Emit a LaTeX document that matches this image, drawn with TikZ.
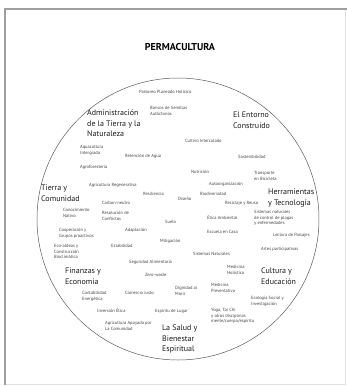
\documentclass[tikz,border=0pt]{standalone}
\usepackage{fontspec}
\setmainfont{PT Sans}
\begin{document}
\begin{tikzpicture}[x=1pt,y=-1pt,
  sm/.style={anchor=base west,inner sep=0pt,align=left,text=black!75,
    font=\fontsize{4.5}{5.6}\selectfont},
  cat/.style={anchor=base west,inner sep=0pt,align=left,text=black!90,
    font=\fontsize{8}{10.3}\selectfont},
  ttl/.style={anchor=base,inner sep=0pt,font=\fontsize{10}{12}\selectfont\bfseries}]
\useasboundingbox (0,0) rectangle (347,386);
% frame
\draw[gray!25,line width=0.6pt] (5.5,9) rectangle (345,384.5);
\draw[gray!75,line width=1.8pt] (5,385) -- (5,8.8) -- (347,8.8);
% circle
\node[draw=black!65,line width=0.5pt,circle,minimum size=282pt,inner sep=0pt] (circ) at (178,219) {};
% title
\node[ttl] (title) at (180,50.5) {PERMACULTURA};
% categories (anchored at baseline of last line)
\node[cat] (adm) at (87,136.4) {Administración\\de la Tierra y la\\Naturaleza};
\node[cat] (ent) at (233,128.1) {El Entorno\\Construido};
\node[cat] (tie) at (41,201.1) {Tierra y\\Comunidad};
\node[cat] (her) at (268,205.1) {Herramientas\\y Tecnología};
\node[cat] (fin) at (65,284.1) {Finanzas y\\Economía};
\node[cat] (cul) at (261,284.1) {Cultura y\\Educación};
\node[cat] (sal) at (162,351.4) {La Salud y\\Bienestar\\Espiritual};
% small labels (anchored at baseline of last line)
\node[sm] (s1) at (139,93.6) {Pastoreo Planeado Holísico};
\node[sm] (s2) at (150,115.2) {Bancos de Semillas\\Autóctonos};
\node[sm] (s3) at (185,142.6) {Cultivo Intercalado};
\node[sm] (s4) at (80,154.2) {Aquacultura\\Intergrada};
\node[sm] (s5) at (125,157.6) {Retención de Agua};
\node[sm] (s6) at (238,158.6) {Sostenibilidad};
\node[sm] (s7) at (80,168.6) {Agroforestería};
\node[sm] (s8) at (191,173.6) {Nutrición};
\node[sm] (s9) at (254,180.2) {Transporte\\en Bicicleta};
\node[sm] (s10) at (209,185.6) {Autoorganización};
\node[sm] (s11) at (89,186.6) {Agricultura Regenerativa};
\node[sm] (s12) at (143,195.6) {Resiliencia};
\node[sm] (s13) at (200,195.6) {Biodiversidad};
\node[sm] (s14) at (178,200.6) {Diseño};
\node[sm] (s15) at (102,204.6) {Carbon-neutro};
\node[sm] (s16) at (225,204.6) {Reciclaje y Reuso};
\node[sm] (s17) at (63,217.2) {Conocimiento\\Nativo};
\node[sm] (s18) at (102,220.2) {Resolución de\\Conflictos};
\node[sm] (s19) at (254,224.8) {Sistemas naturales\\de control de plagas\\y enfermedades};
\node[sm] (s20) at (207,219.6) {Ética Ambiental};
\node[sm] (s21) at (165,223.6) {Suelo};
\node[sm] (s22) at (59,237.2) {Cooperación y\\Grupos proactivos};
\node[sm] (s23) at (125,231.6) {Adaptación};
\node[sm] (s24) at (207,233.6) {Escuela en Casa};
\node[sm] (s25) at (273,236.6) {Lectura de Paisajes};
\node[sm] (s26) at (160,242.6) {Mitigación};
\node[sm] (s27) at (54,258.8) {Eco-aldeas y\\Construcción\\Bioclimática};
\node[sm] (s28) at (111,247.6) {Estabilidad};
\node[sm] (s29) at (261,250.6) {Artes participativas};
\node[sm] (s30) at (193,255.6) {Sistemas Naturales};
\node[sm] (s31) at (129,263.6) {Seguridad Alimentaria};
\node[sm] (s32) at (227,274.2) {Medicina\\Holística};
\node[sm] (s33) at (145,276.6) {Zero-waste};
\node[sm] (s34) at (211,292.2) {Medicina\\Preventativa};
\node[sm] (s35) at (175,295.2) {Dignidad al\\Morir};
\node[sm] (s36) at (82,300.2) {Contabilidad\\Energética};
\node[sm] (s37) at (125,294.6) {Comercio Justo};
\node[sm] (s38) at (251,305.2) {Ecología Social y\\Investigación};
\node[sm] (s39) at (97,312.6) {Inversión Ética};
\node[sm] (s40) at (155,312.6) {Espíritu de Lugar};
\node[sm] (s41) at (211,322.8) {Yoga, Tai Chi\\y otros disciplinas\\mente/cuerpo/espíritu};
\node[sm] (s42) at (105,330.2) {Agricultura Apoyada por\\La Comunidad};
\end{tikzpicture}
\end{document}
